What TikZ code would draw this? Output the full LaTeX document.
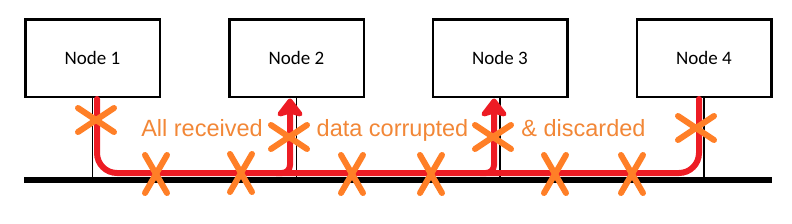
\documentclass[tikz,border=0pt]{standalone}
\usepackage{fontspec}
\setmainfont{Liberation Sans}
\newfontfamily\nodefont{Carlito}
\definecolor{paintred}{RGB}{237,28,36}
\definecolor{paintorange}{RGB}{255,127,39}
\definecolor{textorange}{RGB}{242,135,55}
\tikzset{
  x=1pt, y=-1pt,
  box/.style={draw=black, line width=2.5pt, minimum width=134.5pt, minimum height=77.5pt,
    inner sep=0pt, font=\nodefont\fontsize{19}{19}\selectfont, text depth=0pt},
  tap/.style={draw=black, line width=1.5pt},
  bus/.style={draw=black, line width=6pt},
  signal/.style={draw=paintred, line width=6pt},
  headstroke/.style={draw=paintred, fill=paintred, line width=5pt, line join=round, line cap=round},
  xmark/.style={draw=paintorange, line width=6pt, line cap=round},
  lbl/.style={text=textorange, font=\fontsize{23.5}{23.5}\selectfont, anchor=base, inner sep=0pt},
  xh/.pic={\draw[xmark] (-18,-12) -- (18,12) (-18,12) -- (18,-12);},
  xv/.pic={\draw[xmark] (-11,-19) -- (11,19) (-11,19) -- (11,-19);}
}
\begin{document}
\begin{tikzpicture}
\useasboundingbox (0,0) rectangle (792,223);
\node[box] (n1) at (92.5,58) {Node 1};
\node[box] (n2) at (296.5,58) {Node 2};
\node[box] (n3) at (500,58) {Node 3};
\node[box] (n4) at (704,58) {Node 4};
\coordinate (busL) at (24,180);
\coordinate (busR) at (772,180);
% taps
\draw[tap] (n1.south) -- (n1.south |- busL);
\draw[tap] (n2.south) -- (n2.south |- busL);
\draw[tap] (n3.south) -- (n3.south |- busL);
\draw[tap] (n4.south) -- (n4.south |- busL);
% bus
\draw[bus] (busL) -- (busR);
% red signal path
\coordinate (s1) at ([xshift=4.5pt,yshift=-1pt]n1.south);
\coordinate (s4) at ([xshift=-5pt,yshift=-1pt]n4.south);
\draw[signal, line cap=round, rounded corners=20pt] (s1) -- (s1 |- 0,173) -- (s4 |- 0,173) -- (s4);
% arrows up to node 2 and 3
\coordinate (a2) at ([xshift=-6.5pt,yshift=-3pt]n2.south);
\coordinate (a3) at ([xshift=-6pt,yshift=-3pt]n3.south);
\draw[signal, rounded corners=8pt] ([xshift=-14pt]a2 |- 0,173) -| ([yshift=-8pt]a2);
\draw[signal, rounded corners=8pt] ([xshift=-14pt]a3 |- 0,173) -| ([yshift=-8pt]a3);
\draw[headstroke] (a2) -- ++(-10,13) -- ++(10,-3) -- ++(10,3) -- cycle;
\draw[headstroke] (a3) -- ++(-10,13) -- ++(10,-3) -- ++(10,3) -- cycle;
% X marks
\pic at (96,120) {xh};
\pic at (156,174) {xv};
\pic at (241,173) {xv};
\pic at (289,137) {xh};
\pic at (352,174) {xv};
\pic at (431,174) {xv};
\pic at (493,137) {xh};
\pic at (555,174) {xv};
\pic at (632,174) {xv};
\pic at (696,128) {xh};
% labels
\node[lbl] (t1) at (202,136) {All received};
\node[lbl] (t2) at (392.5,136) {data corrupted};
\node[lbl] (t3) at (583.5,136) {\& discarded};
\end{tikzpicture}
\end{document}
